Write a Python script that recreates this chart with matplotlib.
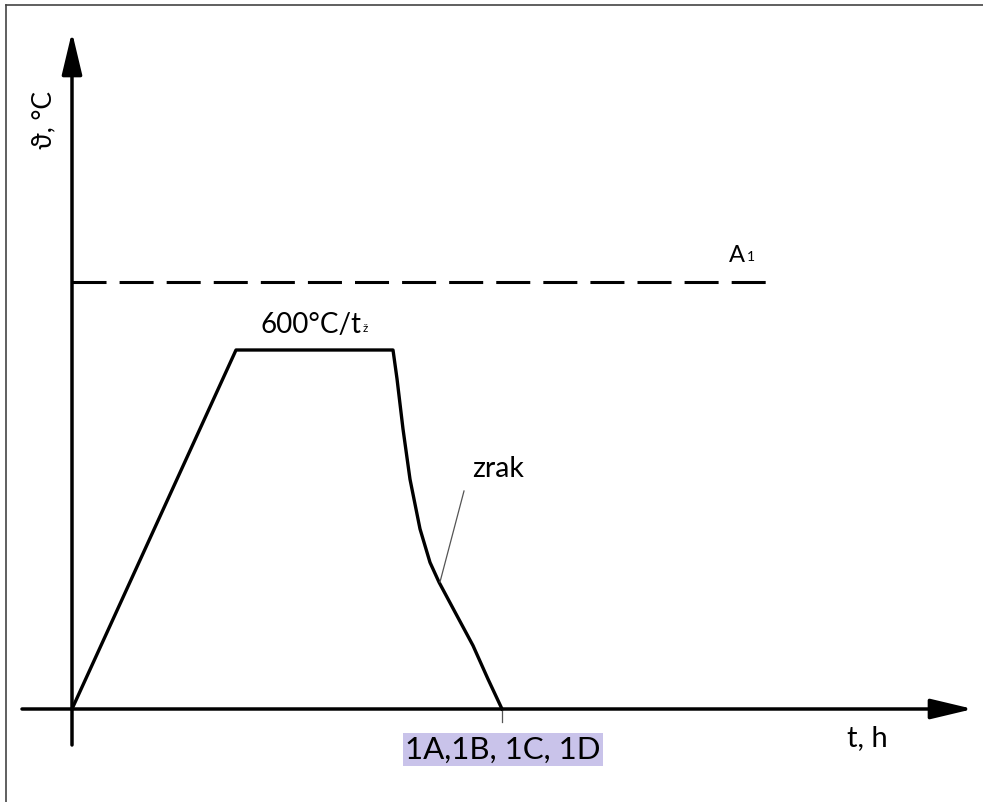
import matplotlib.pyplot as plt
from matplotlib.lines import Line2D

plt.rcParams['lines.scale_dashes'] = False
FONT = ['Lato', 'DejaVu Sans']

# heat treatment cycle: t in relative time units, T in degC
t_heat = [0, 164]
T_heat = [0, 600]
t_hold = [164, 321]
T_hold = [600, 600]
t_cool = [321, 325, 331, 338, 348, 358, 367, 383, 401, 416, 430]
T_cool = [600, 552, 468, 384, 301, 245, 212, 162, 106, 50, 0]

T_A1 = 714
t_A1 = [0, 696]

hold_label = '600°C/t'
hold_sub = 'ž'
A1_label = 'A'
A1_sub = '1'
medium_label = 'zrak'
samples_label = '1A,1B, 1C, 1D'
x_label = 't, h'
y_label = 'ϑ, °C'

W, H = 983, 803
k = 359 / 600.0          # drawing px per degC
x0, y0 = 72, 710         # origin position in px

fig = plt.figure(figsize=(W / 100, H / 100), dpi=100)
ax = fig.add_axes([0, 0, 1, 1])
ax.set_xlim(-x0, W - x0)
ax.set_ylim(-(H - y0) / k, y0 / k)
ax.axis('off')


def fx(px):
    return px / W


def fy(py):
    return 1 - py / H


# page frame (only top/left visible)
fig.add_artist(Line2D([fx(6), 1], [fy(6), fy(6)], color='#444444', lw=1.2))
fig.add_artist(Line2D([fx(6), fx(6)], [fy(6), 0], color='#444444', lw=1.2))

# axes with arrows
arrow = dict(arrowstyle='-|>,head_length=2.6,head_width=0.62', lw=2.5,
             color='black', shrinkA=0, shrinkB=0, mutation_scale=10)
ax.annotate('', xy=(0, 677 / k), xytext=(0, -36 / k), arrowprops=arrow)
ax.annotate('', xy=(901, 0), xytext=(-50, 0), arrowprops=arrow)

# A1 line
ax.plot(t_A1, [T_A1, T_A1], color='black', lw=2.2, dashes=(24.5, 9.4),
        solid_capstyle='butt', dash_capstyle='butt')

# cycle
t_all = t_heat + t_hold[1:] + t_cool[1:]
T_all = T_heat + T_hold[1:] + T_cool[1:]
ax.plot(t_all, T_all, color='black', lw=2.4, solid_joinstyle='round')

# leader for "zrak" and tick below the end of cooling
ax.plot([392, 368], [218 / k, 127 / k], color='#555555', lw=0.9)
ax.plot([t_cool[-1], t_cool[-1]], [0, -13 / k], color='#555555', lw=0.9)

# texts
fig.text(fx(44), fy(120), y_label, rotation=90, ha='center', va='center',
         fontsize=19, family=FONT)
ht = fig.text(fx(260), fy(333), hold_label, ha='left', va='baseline',
              fontsize=20, family=FONT)
ax.annotate(hold_sub, xy=(1, 0), xycoords=ht, xytext=(1, 3),
            textcoords='offset points', ha='left', va='bottom',
            fontsize=8.5, family=FONT)
at = fig.text(fx(729), fy(262), A1_label, ha='left', va='baseline',
              fontsize=17, family=FONT)
ax.annotate(A1_sub, xy=(1, 0), xycoords=at, xytext=(1, 2.5),
            textcoords='offset points', ha='left', va='bottom',
            fontsize=10, family=FONT)
fig.text(fx(472), fy(477), medium_label, ha='left', va='baseline',
         fontsize=20.5, family=FONT)
fig.text(fx(847), fy(746), x_label, ha='left', va='baseline',
         fontsize=21, family=FONT)
fig.text(fx(503), fy(750), samples_label, ha='center', va='center',
         fontsize=22.5, family=FONT,
         bbox=dict(boxstyle='square,pad=0.08', fc='#c9c3ea', ec='none'))

fig.savefig('out.png', dpi=100)
